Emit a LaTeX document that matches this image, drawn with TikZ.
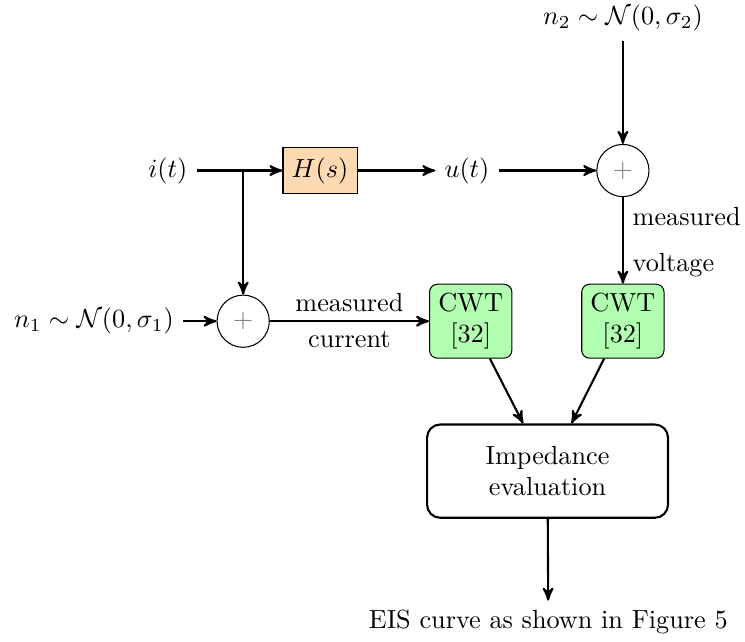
\documentclass[tikz,border=0pt]{standalone}
\usepackage{amsmath}
\usetikzlibrary{arrows,calc}

\tikzset{
  sumnode/.style={draw, circle, minimum size=0.7cm, inner sep=0pt, text=gray},
  cwtbox/.style={draw, fill=green!30, rounded corners=3pt, align=center},
  flow/.style={-stealth', thick}
}

\begin{document}
\begin{tikzpicture}
\useasboundingbox (0,0) rectangle (9.987,8.606);

\node (it) at (2.25,6.32) {$i(t)$};
\node[draw, fill=orange!30, minimum height=0.62cm] (hs) at (4.29,6.32) {$H(s)$};
\node (ut) at (6.26,6.32) {$u(t)$};
\node[sumnode] (sum2) at (8.35,6.32) {$+$};
\node (n2) at (8.35,8.36) {$n_2 \sim \mathcal{N}(0,\sigma_2)$};

\node (n1) at (1.26,4.30) {$n_1 \sim \mathcal{N}(0,\sigma_1)$};
\node[sumnode] (sum1) at (3.26,4.30) {$+$};
\node[cwtbox] (cwt1) at (6.31,4.30) {CWT\\{}[32]};
\node[cwtbox] (cwt2) at (8.35,4.30) {CWT\\{}[32]};

\node[draw, thick, rounded corners=5pt, align=center, minimum width=3.23cm, minimum height=1.25cm] (imp) at (7.34,2.29) {Impedance\\evaluation};
\node (eis) at (7.35,0.27) {EIS curve as shown in Figure 5};

\coordinate (split) at (it -| sum1);

\draw[flow] (it) -- (hs);
\draw[flow] (split) -- (sum1);
\draw[flow] (hs) -- (ut);
\draw[flow] (ut) -- (sum2);
\draw[flow] (n2) -- (sum2);
\draw[flow] (n1) -- (sum1);

\draw[flow] (sum1) -- node[above]{measured} node[below]{current} (cwt1);
\draw[flow] (sum2) -- node[pos=0.22, right]{measured} node[pos=0.78, right]{voltage} (cwt2);

\draw[flow] (cwt1) -- (imp);
\draw[flow] (cwt2) -- (imp);
\draw[flow] (imp) -- (eis);

\end{tikzpicture}
\end{document}
